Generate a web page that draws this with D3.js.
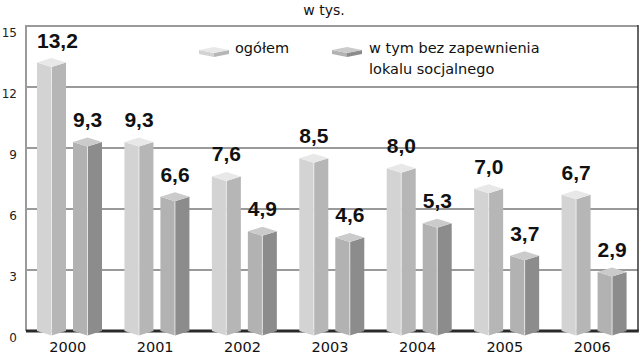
<!DOCTYPE html>
<html><head><meta charset="utf-8">
<script src="https://cdn.jsdelivr.net/npm/d3@7"></script>
<style>body{margin:0;background:#fff}svg{display:block}</style>
</head><body>
<script>
const years = ["2000","2001","2002","2003","2004","2005","2006"];
const seriesNames = ["ogółem","w tym bez zapewnienia lokalu socjalnego"];
const ogolem = [13.2, 9.3, 7.6, 8.5, 8.0, 7.0, 6.7];
const bezLokalu = [9.3, 6.6, 4.9, 4.6, 5.3, 3.7, 2.9];
const yTicks = [0, 3, 6, 9, 12, 15];
const unitLabel = "w tys.";

(function() {
const W = 639, H = 356;
const pL = 26, pR = 638, pT = 26, pB = 331;
const svg = d3.select("body").append("svg").attr("width", W).attr("height", H);

const x = d3.scaleBand().domain(years).range([pL, pR]);
const xs = d3.scaleBand().domain([0, 1]).range([11, 76]).paddingInner(7/36);
const y = d3.scaleLinear().domain([0, 15]).range([pB, pT]);

const fmt = v => v.toFixed(1).replace(".", ",");

svg.append("text").attr("x", 324).attr("y", 15).attr("text-anchor", "middle")
  .attr("font-family", "DejaVu Sans, sans-serif").attr("font-size", 14).attr("fill", "#111")
  .text(unitLabel);

svg.append("g").selectAll("line").data(yTicks.filter(t => t > 0)).join("line")
  .attr("x1", pL).attr("x2", pR).attr("y1", d => y(d)).attr("y2", d => y(d))
  .attr("stroke", "#9a9a9a").attr("stroke-width", 2);
svg.append("line").attr("x1", pL).attr("x2", pL).attr("y1", pT - 1).attr("y2", pB)
  .attr("stroke", "#9a9a9a").attr("stroke-width", 2);
svg.append("line").attr("x1", pR).attr("x2", pR).attr("y1", pT - 1).attr("y2", pB)
  .attr("stroke", "#333").attr("stroke-width", 1.5);
svg.append("line").attr("x1", pL).attr("x2", pR + 0.75).attr("y1", pB).attr("y2", pB)
  .attr("stroke", "#2a2a2a").attr("stroke-width", 3);

svg.append("g").selectAll("text").data(yTicks).join("text")
  .attr("x", 17).attr("y", d => y(d) + 11).attr("text-anchor", "end")
  .attr("font-family", "DejaVu Sans, sans-serif").attr("font-size", 12).attr("fill", "#222")
  .text(d => d);

svg.append("g").selectAll("text").data(years).join("text")
  .attr("x", d => x(d) + x.bandwidth() / 2 - 2).attr("y", 352).attr("text-anchor", "middle")
  .attr("font-family", "DejaVu Sans, sans-serif").attr("font-size", 14.5).attr("fill", "#111")
  .text(d => d);

const colors = [
  {l: "#d3d3d3", r: "#b6b6b6", t: "#e8e8e8"},
  {l: "#b2b2b2", r: "#8c8c8c", t: "#cbcbcb"}
];
const depth = 4.5;

const data = [];
years.forEach((yr, i) => {
  [ogolem[i], bezLokalu[i]].forEach((v, s) => data.push({yr, s, v}));
});

const bars = svg.append("g").selectAll("g").data(data).join("g");
bars.each(function(d) {
  const g = d3.select(this);
  const x0 = x(d.yr) + xs(d.s), w = xs.bandwidth(), xm = x0 + w / 2, x1 = x0 + w;
  const yv = y(d.v), yb = y(0);
  const c = colors[d.s];
  g.append("path").attr("d", `M${x0},${yv}L${xm},${yv + depth}L${xm},${yb + depth}L${x0},${yb}Z`).attr("fill", c.l);
  g.append("path").attr("d", `M${xm},${yv + depth}L${x1},${yv}L${x1},${yb}L${xm},${yb + depth}Z`).attr("fill", c.r);
  g.append("path").attr("d", `M${x0},${yv}L${xm},${yv - depth}L${x1},${yv}L${xm},${yv + depth}Z`).attr("fill", c.t);
  g.append("line").attr("x1", xm).attr("x2", xm).attr("y1", yv + depth).attr("y2", yb + depth)
    .attr("stroke", "#f2f2f2").attr("stroke-width", 0.8);
  g.append("text").attr("x", x0).attr("y", yv - 15)
    .attr("font-family", "Liberation Sans, Arial, sans-serif").attr("font-weight", "bold")
    .attr("font-size", 21).attr("fill", "#111").text(fmt(d.v));
});

function legendIcon(gx, gy, c) {
  const g = svg.append("g");
  const w = 30, h = 4, d = 3;
  g.append("path").attr("d", `M${gx},${gy}L${gx + w/2},${gy + d}L${gx + w/2},${gy + d + h}L${gx},${gy + h}Z`).attr("fill", c.l);
  g.append("path").attr("d", `M${gx + w/2},${gy + d}L${gx + w},${gy}L${gx + w},${gy + h}L${gx + w/2},${gy + d + h}Z`).attr("fill", c.r);
  g.append("path").attr("d", `M${gx},${gy}L${gx + w/2},${gy - d}L${gx + w},${gy}L${gx + w/2},${gy + d}Z`).attr("fill", c.t);
}
legendIcon(199, 50, colors[0]);
legendIcon(332, 50, colors[1]);
const lf = {family: "DejaVu Sans, sans-serif", size: 14.5};
svg.append("text").attr("x", 235).attr("y", 53).attr("font-family", lf.family).attr("font-size", lf.size).attr("fill", "#111").text(seriesNames[0]);
svg.append("text").attr("x", 369).attr("y", 53).attr("font-family", lf.family).attr("font-size", lf.size).attr("fill", "#111").text("w tym bez zapewnienia");
svg.append("text").attr("x", 369).attr("y", 74).attr("font-family", lf.family).attr("font-size", lf.size).attr("fill", "#111").text("lokalu socjalnego");
})();
</script>
</body></html>
